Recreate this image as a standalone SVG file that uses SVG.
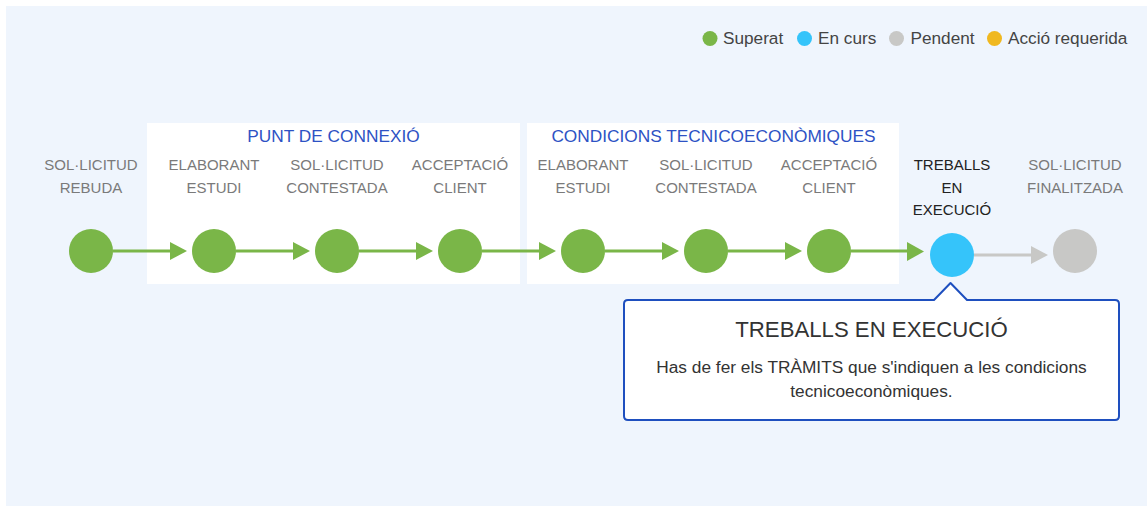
<svg xmlns="http://www.w3.org/2000/svg" width="1147" height="506" viewBox="0 0 1147 506">
<style>
text{font-family:"Liberation Sans",Arial,Helvetica,sans-serif}
.lbl{font-size:15px;fill:#7a7a7a;text-anchor:middle}
.cur{fill:#222}
.grp{font-size:17.3px;fill:#2d52c4;text-anchor:middle}
.leg{font-size:17.2px;fill:#444}
.done{fill:#7ab648}
.now{fill:#35c4fa}
.todo{fill:#c8c8c6}
.req{fill:#f0b820}
.gl{stroke:#7ab648;stroke-width:3;fill:none}
.gh{fill:#7ab648}
.pl{stroke:#c8c8c6;stroke-width:3;fill:none}
.ph{fill:#c8c8c6}
.panel{fill:#ffffff}
</style>
<rect x="6" y="6" width="1141" height="500" fill="#eff5fd"/>
<rect class="panel" x="147" y="123" width="373" height="161"/>
<rect class="panel" x="527" y="123" width="372" height="161"/>
<text class="grp" x="333.5" y="142">PUNT DE CONNEXIÓ</text>
<text class="grp" x="713.5" y="142">CONDICIONS TECNICOECONÒMIQUES</text>

<g id="legend">
<circle class="done" cx="710" cy="38.5" r="7.5"/><text class="leg" x="723" y="44">Superat</text>
<circle class="now" cx="804.5" cy="38.5" r="7.5"/><text class="leg" x="818" y="44">En curs</text>
<circle class="todo" cx="896.5" cy="38.5" r="7.5"/><text class="leg" x="910.5" y="44">Pendent</text>
<circle class="req" cx="994.5" cy="38.5" r="7.5"/><text class="leg" x="1008" y="44">Acció requerida</text>
</g>

<g id="connectors">
<line class="gl" x1="113" y1="251" x2="172" y2="251"/><polygon class="gh" points="170,242 187,251 170,260"/>
<line class="gl" x1="236" y1="251" x2="295" y2="251"/><polygon class="gh" points="293,242 310,251 293,260"/>
<line class="gl" x1="359" y1="251" x2="418" y2="251"/><polygon class="gh" points="416,242 433,251 416,260"/>
<line class="gl" x1="482" y1="251" x2="541" y2="251"/><polygon class="gh" points="539,242 556,251 539,260"/>
<line class="gl" x1="605" y1="251" x2="664" y2="251"/><polygon class="gh" points="662,242 679,251 662,260"/>
<line class="gl" x1="728" y1="251" x2="787" y2="251"/><polygon class="gh" points="785,242 802,251 785,260"/>
<line class="gl" x1="851" y1="251" x2="909" y2="251"/><polygon class="gh" points="907,242 924,251.5 907,261"/>
<line class="pl" x1="974" y1="255" x2="1033" y2="255"/><polygon class="ph" points="1031,246 1048,255 1031,264"/>
</g>

<g id="n1"><circle class="done" cx="91" cy="251" r="22"/><text class="lbl" x="91" y="170">SOL·LICITUD</text><text class="lbl" x="91" y="193">REBUDA</text></g>
<g id="n2"><circle class="done" cx="214" cy="251" r="22"/><text class="lbl" x="214" y="170">ELABORANT</text><text class="lbl" x="214" y="193">ESTUDI</text></g>
<g id="n3"><circle class="done" cx="337" cy="251" r="22"/><text class="lbl" x="337" y="170">SOL·LICITUD</text><text class="lbl" x="337" y="193">CONTESTADA</text></g>
<g id="n4"><circle class="done" cx="460" cy="251" r="22"/><text class="lbl" x="460" y="170">ACCEPTACIÓ</text><text class="lbl" x="460" y="193">CLIENT</text></g>
<g id="n5"><circle class="done" cx="583" cy="251" r="22"/><text class="lbl" x="583" y="170">ELABORANT</text><text class="lbl" x="583" y="193">ESTUDI</text></g>
<g id="n6"><circle class="done" cx="706" cy="251" r="22"/><text class="lbl" x="706" y="170">SOL·LICITUD</text><text class="lbl" x="706" y="193">CONTESTADA</text></g>
<g id="n7"><circle class="done" cx="829" cy="251" r="22"/><text class="lbl" x="829" y="170">ACCEPTACIÓ</text><text class="lbl" x="829" y="193">CLIENT</text></g>
<g id="n8"><circle class="now" cx="952" cy="255" r="22"/><text class="lbl cur" x="952" y="170">TREBALLS</text><text class="lbl cur" x="952" y="193">EN</text><text class="lbl cur" x="952" y="215">EXECUCIÓ</text></g>
<g id="n9"><circle class="todo" cx="1075" cy="251" r="22"/><text class="lbl" x="1075" y="170">SOL·LICITUD</text><text class="lbl" x="1075" y="193">FINALITZADA</text></g>

<g id="tooltip">
<path d="M628,300 H934 L950.5,283 L967,300 H1115 Q1119,300 1119,304 V416 Q1119,420 1115,420 H628 Q624,420 624,416 V304 Q624,300 628,300 Z" fill="#ffffff" stroke="#1e4fbf" stroke-width="2" stroke-linejoin="round"/>
<text x="871.5" y="337" font-size="22.2" fill="#333" text-anchor="middle">TREBALLS EN EXECUCIÓ</text>
<text x="871.5" y="373" font-size="17.3" fill="#333" text-anchor="middle">Has de fer els TRÀMITS que s'indiquen a les condicions</text>
<text x="871.5" y="397" font-size="17.3" fill="#333" text-anchor="middle">tecnicoeconòmiques.</text>
</g>
</svg>
